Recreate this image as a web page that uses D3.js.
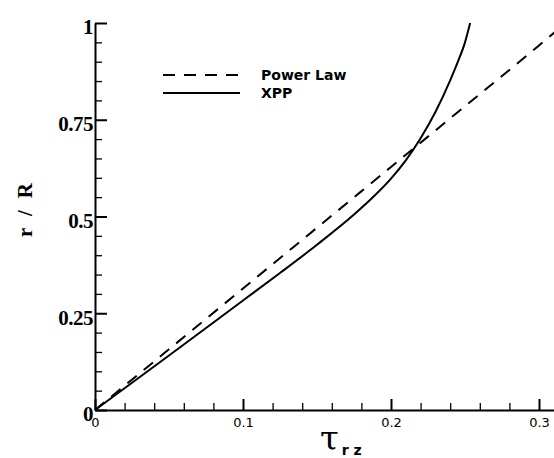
<!DOCTYPE html>
<html>
<head>
<meta charset="utf-8">
<script src="https://cdn.jsdelivr.net/npm/d3@7"></script>
<style>
  html, body { margin: 0; padding: 0; background: #fff; }
  svg { display: block; }
</style>
</head>
<body>
<svg id="chart" width="554" height="458"></svg>
<script>
// ---- data ----
const powerTau = [0, 0.05, 0.1, 0.15, 0.2, 0.25, 0.3, 0.318];
const powerR   = [0, 0.157, 0.314, 0.471, 0.628, 0.785, 0.942, 1.0];

const xppTau = [0, 0.05, 0.1, 0.125, 0.15, 0.175, 0.19, 0.2, 0.21, 0.22, 0.23, 0.24, 0.245, 0.25, 0.2535];
const xppR   = [0, 0.141, 0.283, 0.354, 0.427, 0.505, 0.558, 0.598, 0.645, 0.702, 0.770, 0.852, 0.898, 0.950, 1.0];

const xMajorTicks = [0, 0.1, 0.2, 0.3];
const xTickLabels = ["0", "0.1", "0.2", "0.3"];
const xMinorTicks = [0.02, 0.04, 0.06, 0.08, 0.12, 0.14, 0.16, 0.18, 0.22, 0.24, 0.26, 0.28];
const yMajorTicks = [0, 0.25, 0.5, 0.75, 1];
const yTickLabels = ["0", "0.25", "0.5", "0.75", "1"];
const yMinorTicks = [0.05, 0.1, 0.15, 0.2, 0.3, 0.35, 0.4, 0.45, 0.55, 0.6, 0.65, 0.7, 0.8, 0.85, 0.9, 0.95];

const seriesNames = ["Power Law", "XPP"];

// ---- layout ----
const svg = d3.select("#chart");
const mLeft = 95, mRight = 553.8, mTop = 23, mBottom = 410;

const x = d3.scaleLinear().domain([0, 0.31]).range([mLeft, mRight]);
const y = d3.scaleLinear().domain([0, 1]).range([mBottom, mTop]);

// curves
svg.append("clipPath").attr("id", "plotclip")
  .append("rect").attr("x", mLeft - 2).attr("y", mTop - 2)
  .attr("width", 554 - mLeft + 2).attr("height", mBottom - mTop + 4);

const powerData = powerTau.map((t, i) => [t, powerR[i]]);
const xppData = xppTau.map((t, i) => [t, xppR[i]]);

const line = d3.line().x(d => x(d[0])).y(d => y(d[1])).curve(d3.curveMonotoneX);

const g = svg.append("g").attr("clip-path", "url(#plotclip)");
g.append("path").datum(powerData).attr("d", line)
  .attr("fill", "none").attr("stroke", "#000").attr("stroke-width", 2)
  .attr("stroke-dasharray", "12,9");
g.append("path").datum(xppData).attr("d", line)
  .attr("fill", "none").attr("stroke", "#000").attr("stroke-width", 2);

// x axis
const xAxisMajor = d3.axisBottom(x).tickValues(xMajorTicks)
  .tickFormat((d, i) => xTickLabels[i]).tickSizeInner(-11).tickSizeOuter(0).tickPadding(8);
const xAxisMinor = d3.axisBottom(x).tickValues(xMinorTicks)
  .tickFormat("").tickSizeInner(-7).tickSizeOuter(0);

const gxMinor = svg.append("g").attr("transform", `translate(0,${mBottom})`).call(xAxisMinor);
gxMinor.select(".domain").remove();
gxMinor.selectAll("line").attr("stroke", "#000").attr("stroke-width", 1.3);

const gx = svg.append("g").attr("transform", `translate(0,${mBottom})`).call(xAxisMajor);
gx.select(".domain").attr("stroke", "#000").attr("stroke-width", 2);
gx.selectAll("line").attr("stroke", "#000").attr("stroke-width", 2);
gx.selectAll("text").attr("font-family", "DejaVu Sans").attr("font-size", "13px").attr("fill", "#000");

// y axis
const yAxisMajor = d3.axisLeft(y).tickValues(yMajorTicks)
  .tickFormat((d, i) => yTickLabels[i]).tickSizeInner(-12).tickSizeOuter(0).tickPadding(2);
const yAxisMinor = d3.axisLeft(y).tickValues(yMinorTicks)
  .tickFormat("").tickSizeInner(-7).tickSizeOuter(0);

const gyMinor = svg.append("g").attr("transform", `translate(${mLeft},0)`).call(yAxisMinor);
gyMinor.select(".domain").remove();
gyMinor.selectAll("line").attr("stroke", "#000").attr("stroke-width", 1.3);

const gy = svg.append("g").attr("transform", `translate(${mLeft},0)`).call(yAxisMajor);
gy.select(".domain").attr("stroke", "#000").attr("stroke-width", 2);
gy.selectAll("line").attr("stroke", "#000").attr("stroke-width", 2);
gy.selectAll("text").attr("font-family", "Liberation Serif").attr("font-weight", "bold")
  .attr("font-size", "21px").attr("dy", "0.52em").attr("fill", "#000")
  .attr("letter-spacing", "-0.5px");

// axis titles
const xt = svg.append("text").attr("x", 320).attr("y", 450).attr("fill", "#000");
xt.append("tspan").attr("font-family", "DejaVu Serif").attr("font-size", "34px").text("τ");
xt.append("tspan").attr("font-family", "DejaVu Sans").attr("font-weight", "bold")
  .attr("font-size", "14px").attr("dx", "3").attr("dy", "5").attr("xml:space", "preserve").text("r z");

svg.append("text")
  .attr("transform", "translate(32,210) rotate(-90)")
  .attr("text-anchor", "middle")
  .attr("font-family", "Liberation Serif").attr("font-weight", "bold").attr("font-size", "21px")
  .attr("fill", "#000")
  .attr("textLength", 54).attr("lengthAdjust", "spacing")
  .text("r / R");

// legend
const legend = svg.append("g");
const legendRows = [
  { name: seriesNames[0], dash: "12,9", yy: 75 },
  { name: seriesNames[1], dash: null, yy: 93 }
];
legendRows.forEach(r => {
  legend.append("line").attr("x1", 163).attr("x2", 240).attr("y1", r.yy).attr("y2", r.yy)
    .attr("stroke", "#000").attr("stroke-width", 2)
    .attr("stroke-dasharray", r.dash);
  legend.append("text").attr("x", 261).attr("y", r.yy + 5)
    .attr("font-family", "DejaVu Sans").attr("font-weight", "bold").attr("font-size", "14px")
    .attr("fill", "#000").text(r.name);
});
</script>
</body>
</html>
